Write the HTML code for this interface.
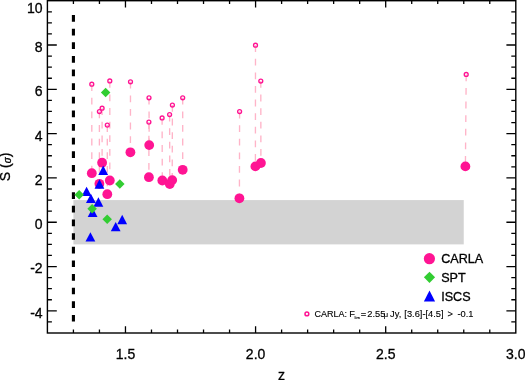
<!DOCTYPE html>
<html><head><meta charset="utf-8"><style>
html,body{margin:0;padding:0;background:#fff;}
svg{display:block;}
</style></head><body>
<svg width="525" height="380" viewBox="0 0 525 380">
<rect width="525" height="380" fill="#fff"/>
<rect x="73.42" y="200.08" width="390.33" height="44.31" fill="#d3d3d3"/>
<line x1="73.42" y1="15.05" x2="73.42" y2="322" stroke="#000" stroke-width="3.1" stroke-dasharray="6.7 6.93"/>
<line x1="91.8" y1="84.2" x2="91.8" y2="173.2" stroke="#ffb4c8" stroke-width="1.35" stroke-dasharray="6.8 6.8"/>
<line x1="109.8" y1="80.9" x2="109.8" y2="180.5" stroke="#ffb4c8" stroke-width="1.35" stroke-dasharray="6.8 6.8"/>
<line x1="130.5" y1="81.8" x2="130.4" y2="152.3" stroke="#ffb4c8" stroke-width="1.35" stroke-dasharray="6.8 6.8"/>
<line x1="102.1" y1="108.2" x2="102.1" y2="162.7" stroke="#ffb4c8" stroke-width="1.35" stroke-dasharray="6.8 6.8"/>
<line x1="99.4" y1="111.5" x2="99.4" y2="183.8" stroke="#ffb4c8" stroke-width="1.35" stroke-dasharray="6.8 6.8"/>
<line x1="107.3" y1="125.1" x2="107.3" y2="194.2" stroke="#ffb4c8" stroke-width="1.35" stroke-dasharray="6.8 6.8"/>
<line x1="149.0" y1="97.8" x2="149.2" y2="145.1" stroke="#ffb4c8" stroke-width="1.35" stroke-dasharray="6.8 6.8"/>
<line x1="148.9" y1="122.1" x2="148.9" y2="177.2" stroke="#ffb4c8" stroke-width="1.35" stroke-dasharray="6.8 6.8"/>
<line x1="162.1" y1="117.9" x2="162.3" y2="180.5" stroke="#ffb4c8" stroke-width="1.35" stroke-dasharray="6.8 6.8"/>
<line x1="169.6" y1="114.6" x2="169.8" y2="184.0" stroke="#ffb4c8" stroke-width="1.35" stroke-dasharray="6.8 6.8"/>
<line x1="172.4" y1="105.0" x2="172.2" y2="180.1" stroke="#ffb4c8" stroke-width="1.35" stroke-dasharray="6.8 6.8"/>
<line x1="182.7" y1="97.8" x2="182.7" y2="169.8" stroke="#ffb4c8" stroke-width="1.35" stroke-dasharray="6.8 6.8"/>
<line x1="255.5" y1="45.2" x2="255.4" y2="166.4" stroke="#ffb4c8" stroke-width="1.35" stroke-dasharray="6.8 6.8"/>
<line x1="260.8" y1="81.0" x2="260.9" y2="163.0" stroke="#ffb4c8" stroke-width="1.35" stroke-dasharray="6.8 6.8"/>
<line x1="239.6" y1="111.6" x2="239.4" y2="198.3" stroke="#ffb4c8" stroke-width="1.35" stroke-dasharray="6.8 6.8"/>
<line x1="466.2" y1="74.4" x2="465.4" y2="166.4" stroke="#ffb4c8" stroke-width="1.35" stroke-dasharray="6.8 6.8"/>
<circle cx="91.8" cy="84.2" r="1.95" fill="none" stroke="#ff1493" stroke-width="1.35"/>
<circle cx="109.8" cy="80.9" r="1.95" fill="none" stroke="#ff1493" stroke-width="1.35"/>
<circle cx="130.5" cy="81.8" r="1.95" fill="none" stroke="#ff1493" stroke-width="1.35"/>
<circle cx="102.1" cy="108.2" r="1.95" fill="none" stroke="#ff1493" stroke-width="1.35"/>
<circle cx="99.4" cy="111.5" r="1.95" fill="none" stroke="#ff1493" stroke-width="1.35"/>
<circle cx="107.3" cy="125.1" r="1.95" fill="none" stroke="#ff1493" stroke-width="1.35"/>
<circle cx="149.0" cy="97.8" r="1.95" fill="none" stroke="#ff1493" stroke-width="1.35"/>
<circle cx="148.9" cy="122.1" r="1.95" fill="none" stroke="#ff1493" stroke-width="1.35"/>
<circle cx="162.1" cy="117.9" r="1.95" fill="none" stroke="#ff1493" stroke-width="1.35"/>
<circle cx="169.6" cy="114.6" r="1.95" fill="none" stroke="#ff1493" stroke-width="1.35"/>
<circle cx="172.4" cy="105.0" r="1.95" fill="none" stroke="#ff1493" stroke-width="1.35"/>
<circle cx="182.7" cy="97.8" r="1.95" fill="none" stroke="#ff1493" stroke-width="1.35"/>
<circle cx="255.5" cy="45.2" r="1.95" fill="none" stroke="#ff1493" stroke-width="1.35"/>
<circle cx="260.8" cy="81.0" r="1.95" fill="none" stroke="#ff1493" stroke-width="1.35"/>
<circle cx="239.6" cy="111.6" r="1.95" fill="none" stroke="#ff1493" stroke-width="1.35"/>
<circle cx="466.2" cy="74.4" r="1.95" fill="none" stroke="#ff1493" stroke-width="1.35"/>
<circle cx="91.8" cy="173.2" r="4.9" fill="#ff1493"/>
<circle cx="109.8" cy="180.5" r="4.9" fill="#ff1493"/>
<circle cx="130.4" cy="152.3" r="4.9" fill="#ff1493"/>
<circle cx="102.1" cy="162.7" r="4.9" fill="#ff1493"/>
<circle cx="99.4" cy="183.8" r="4.9" fill="#ff1493"/>
<circle cx="107.3" cy="194.2" r="4.9" fill="#ff1493"/>
<circle cx="149.2" cy="145.1" r="4.9" fill="#ff1493"/>
<circle cx="148.9" cy="177.2" r="4.9" fill="#ff1493"/>
<circle cx="162.3" cy="180.5" r="4.9" fill="#ff1493"/>
<circle cx="169.8" cy="184.0" r="4.9" fill="#ff1493"/>
<circle cx="172.2" cy="180.1" r="4.9" fill="#ff1493"/>
<circle cx="182.7" cy="169.8" r="4.9" fill="#ff1493"/>
<circle cx="255.4" cy="166.4" r="4.9" fill="#ff1493"/>
<circle cx="260.9" cy="163.0" r="4.9" fill="#ff1493"/>
<circle cx="239.4" cy="198.3" r="4.9" fill="#ff1493"/>
<circle cx="465.4" cy="166.4" r="4.9" fill="#ff1493"/>
<polygon points="103.20,165.50 108.10,174.90 98.30,174.90" fill="#0000ff"/>
<polygon points="99.45,179.30 104.35,188.70 94.55,188.70" fill="#0000ff"/>
<polygon points="86.60,186.70 91.50,196.10 81.70,196.10" fill="#0000ff"/>
<polygon points="90.90,193.70 95.80,203.10 86.00,203.10" fill="#0000ff"/>
<polygon points="98.40,197.30 103.30,206.70 93.50,206.70" fill="#0000ff"/>
<polygon points="92.60,207.70 97.50,217.10 87.70,217.10" fill="#0000ff"/>
<polygon points="122.20,214.80 127.10,224.20 117.30,224.20" fill="#0000ff"/>
<polygon points="115.70,221.90 120.60,231.30 110.80,231.30" fill="#0000ff"/>
<polygon points="90.40,232.20 95.30,241.60 85.50,241.60" fill="#0000ff"/>
<polygon points="105.60,87.65 110.35,92.40 105.60,97.15 100.85,92.40" fill="#32cd32"/>
<polygon points="79.20,190.05 83.95,194.80 79.20,199.55 74.45,194.80" fill="#32cd32"/>
<polygon points="92.10,204.05 96.85,208.80 92.10,213.55 87.35,208.80" fill="#32cd32"/>
<polygon points="107.20,214.55 111.95,219.30 107.20,224.05 102.45,219.30" fill="#32cd32"/>
<polygon points="119.80,179.35 124.55,184.10 119.80,188.85 115.05,184.10" fill="#32cd32"/>
<rect x="47.4" y="0.7" width="468.40" height="332.30" fill="none" stroke="#000" stroke-width="1.4"/>
<path d="M47.40 321.92h4.5M515.80 321.92h-4.5M47.40 310.85h9.4M515.80 310.85h-9.4M47.40 299.77h4.5M515.80 299.77h-4.5M47.40 288.69h4.5M515.80 288.69h-4.5M47.40 277.62h4.5M515.80 277.62h-4.5M47.40 266.54h9.4M515.80 266.54h-9.4M47.40 255.46h4.5M515.80 255.46h-4.5M47.40 244.39h4.5M515.80 244.39h-4.5M47.40 233.31h4.5M515.80 233.31h-4.5M47.40 222.23h9.4M515.80 222.23h-9.4M47.40 211.16h4.5M515.80 211.16h-4.5M47.40 200.08h4.5M515.80 200.08h-4.5M47.40 189.00h4.5M515.80 189.00h-4.5M47.40 177.93h9.4M515.80 177.93h-9.4M47.40 166.85h4.5M515.80 166.85h-4.5M47.40 155.77h4.5M515.80 155.77h-4.5M47.40 144.70h4.5M515.80 144.70h-4.5M47.40 133.62h9.4M515.80 133.62h-9.4M47.40 122.54h4.5M515.80 122.54h-4.5M47.40 111.47h4.5M515.80 111.47h-4.5M47.40 100.39h4.5M515.80 100.39h-4.5M47.40 89.31h9.4M515.80 89.31h-9.4M47.40 78.24h4.5M515.80 78.24h-4.5M47.40 67.16h4.5M515.80 67.16h-4.5M47.40 56.08h4.5M515.80 56.08h-4.5M47.40 45.01h9.4M515.80 45.01h-9.4M47.40 33.93h4.5M515.80 33.93h-4.5M47.40 22.85h4.5M515.80 22.85h-4.5M47.40 11.78h4.5M515.80 11.78h-4.5M73.42 333.00v-3.4M73.42 0.70v3.4M99.44 333.00v-3.4M99.44 0.70v3.4M125.47 333.00v-6.7M125.47 0.70v6.7M151.49 333.00v-3.4M151.49 0.70v3.4M177.51 333.00v-3.4M177.51 0.70v3.4M203.53 333.00v-3.4M203.53 0.70v3.4M229.56 333.00v-3.4M229.56 0.70v3.4M255.58 333.00v-6.7M255.58 0.70v6.7M281.60 333.00v-3.4M281.60 0.70v3.4M307.62 333.00v-3.4M307.62 0.70v3.4M333.64 333.00v-3.4M333.64 0.70v3.4M359.67 333.00v-3.4M359.67 0.70v3.4M385.69 333.00v-6.7M385.69 0.70v6.7M411.71 333.00v-3.4M411.71 0.70v3.4M437.73 333.00v-3.4M437.73 0.70v3.4M463.76 333.00v-3.4M463.76 0.70v3.4M489.78 333.00v-3.4M489.78 0.70v3.4" stroke="#000" stroke-width="1.3" fill="none"/>
<text x="42.6" y="12.7" text-anchor="end" font-size="14" font-family="'Liberation Sans', Arial, sans-serif" stroke="#000" stroke-width="0.3">10</text>
<text x="42.6" y="52.1" text-anchor="end" font-size="14" font-family="'Liberation Sans', Arial, sans-serif" stroke="#000" stroke-width="0.3">8</text>
<text x="42.6" y="96.3" text-anchor="end" font-size="14" font-family="'Liberation Sans', Arial, sans-serif" stroke="#000" stroke-width="0.3">6</text>
<text x="42.6" y="140.5" text-anchor="end" font-size="14" font-family="'Liberation Sans', Arial, sans-serif" stroke="#000" stroke-width="0.3">4</text>
<text x="42.6" y="184.7" text-anchor="end" font-size="14" font-family="'Liberation Sans', Arial, sans-serif" stroke="#000" stroke-width="0.3">2</text>
<text x="42.6" y="229" text-anchor="end" font-size="14" font-family="'Liberation Sans', Arial, sans-serif" stroke="#000" stroke-width="0.3">0</text>
<text x="42.6" y="273" text-anchor="end" font-size="14" font-family="'Liberation Sans', Arial, sans-serif" stroke="#000" stroke-width="0.3">-2</text>
<text x="42.6" y="317.7" text-anchor="end" font-size="14" font-family="'Liberation Sans', Arial, sans-serif" stroke="#000" stroke-width="0.3">-4</text>
<text x="125.47" y="358.5" text-anchor="middle" font-size="14" font-family="'Liberation Sans', Arial, sans-serif" stroke="#000" stroke-width="0.3">1.5</text>
<text x="255.58" y="358.5" text-anchor="middle" font-size="14" font-family="'Liberation Sans', Arial, sans-serif" stroke="#000" stroke-width="0.3">2.0</text>
<text x="385.69" y="358.5" text-anchor="middle" font-size="14" font-family="'Liberation Sans', Arial, sans-serif" stroke="#000" stroke-width="0.3">2.5</text>
<text x="515.80" y="358.5" text-anchor="middle" font-size="14" font-family="'Liberation Sans', Arial, sans-serif" stroke="#000" stroke-width="0.3">3.0</text>
<text x="281.6" y="380" text-anchor="middle" font-size="14" font-family="'Liberation Sans', Arial, sans-serif" stroke="#000" stroke-width="0.3">z</text>
<text transform="translate(10.2,166.9) rotate(-90)" text-anchor="middle" font-size="14" font-family="'Liberation Sans', Arial, sans-serif" stroke="#000" stroke-width="0.3">S (<tspan font-size="10" font-style="italic" dy="0.8">σ</tspan><tspan dy="-0.8">)</tspan></text>
<circle cx="429.4" cy="258.7" r="5.6" fill="#ff1493"/>
<polygon points="429.50,271.70 435.10,277.30 429.50,282.90 423.90,277.30" fill="#32cd32"/>
<polygon points="429.50,290.40 435.10,301.60 423.90,301.60" fill="#0000ff"/>
<text x="441.2" y="262.8" font-size="12.6" font-family="'Liberation Sans', Arial, sans-serif" stroke="#000" stroke-width="0.3">CARLA</text>
<text x="441.2" y="281.9" font-size="12.6" font-family="'Liberation Sans', Arial, sans-serif" stroke="#000" stroke-width="0.3">SPT</text>
<text x="441.2" y="300.8" font-size="12.6" font-family="'Liberation Sans', Arial, sans-serif" stroke="#000" stroke-width="0.3">ISCS</text>
<circle cx="306.9" cy="313.9" r="1.9" fill="none" stroke="#ff1493" stroke-width="1.5"/>
<text x="314.54" y="317.2" font-size="9.0" font-family="'Liberation Sans', Arial, sans-serif" stroke="#000" stroke-width="0.12">CARLA:</text>
<text x="349.24" y="317.2" font-size="9.3" font-family="'Liberation Sans', Arial, sans-serif" stroke="#000" stroke-width="0.12">F</text>
<text x="354.50" y="318.9" font-size="4.4" font-family="'Liberation Sans', Arial, sans-serif" stroke="#000" stroke-width="0.12">lim</text>
<text x="360.75" y="317.2" font-size="9.3" font-family="'Liberation Sans', Arial, sans-serif" stroke="#000" stroke-width="0.12">=</text>
<text x="367.33" y="317.2" font-size="9.3" font-family="'Liberation Sans', Arial, sans-serif" stroke="#000" stroke-width="0.12">2.55</text>
<text x="383.79" y="317.3" font-size="7.6" font-family="'Liberation Sans', Arial, sans-serif" stroke="#000" stroke-width="0.12">μ</text>
<text x="390.05" y="317.2" font-size="9.3" font-family="'Liberation Sans', Arial, sans-serif" stroke="#000" stroke-width="0.12">Jy,</text>
<text x="404.34" y="317.2" font-size="9.3" font-family="'Liberation Sans', Arial, sans-serif" stroke="#000" stroke-width="0.12">[3.6]-[4.5]</text>
<text x="447.54" y="317.2" font-size="9.3" font-family="'Liberation Sans', Arial, sans-serif" stroke="#000" stroke-width="0.12">&gt;</text>
<text x="457.39" y="317.2" font-size="9.3" font-family="'Liberation Sans', Arial, sans-serif" stroke="#000" stroke-width="0.12">-0.1</text>
</svg>
</body></html>
